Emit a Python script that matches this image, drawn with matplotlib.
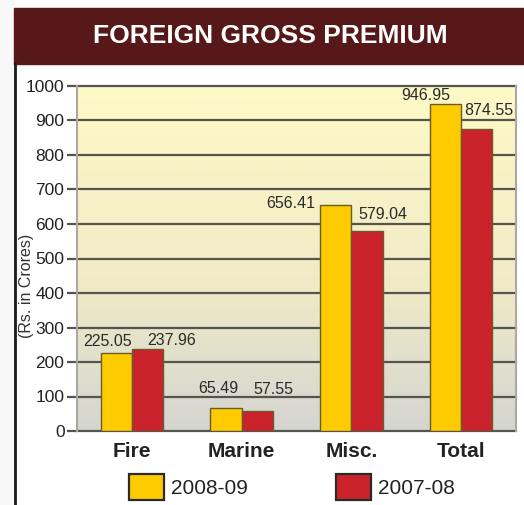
import numpy as np
import matplotlib.pyplot as plt
from matplotlib.colors import LinearSegmentedColormap
from matplotlib.patches import Patch, Rectangle
from matplotlib.lines import Line2D

plt.rcParams['font.family'] = ['Liberation Sans', 'DejaVu Sans']

# --- data ---
categories = ['Fire', 'Marine', 'Misc.', 'Total']
years = ['2008-09', '2007-08']
premium_0809 = [225.05, 65.49, 656.41, 946.95]
premium_0708 = [237.96, 57.55, 579.04, 874.55]
y_ticks = [0, 100, 200, 300, 400, 500, 600, 700, 800, 900, 1000]

# label nudges in pixels (dx, dy) so the numbers don't collide
nudge_0809 = [(-9, 7), (-8, 15), (-45, -3), (-20, 4)]
nudge_0708 = [(24, 4), (16, 17), (16, 12), (12, 14)]

YELLOW = '#fecb00'
RED = '#ca232b'
EDGE = '#6b5a2c'
GRID = '#55554f'
TXT = '#222222'

W, H = 524, 505
fig = plt.figure(figsize=(W / 100, H / 100), dpi=100)

# left margin strip, header bar and frame line
fig.patches.append(Rectangle((0, 0), 14 / W, 1, transform=fig.transFigure,
                             color='#f8f8f8', zorder=0))
fig.patches.append(Rectangle((14 / W, (H - 64) / H), 1 - 14 / W, 56 / H,
                             transform=fig.transFigure, color='#561819', zorder=1))
fig.text(270 / W, (H - 36) / H, 'FOREIGN GROSS PREMIUM', color='white',
         fontsize=19, fontweight='bold', ha='center', va='center')
fig.lines.append(Line2D([15 / W, 15 / W], [0, (H - 64) / H], transform=fig.transFigure,
                        color='#1a1a1a', lw=2))

ax = fig.add_axes([77 / W, (H - 431) / H, (516 - 77) / W, (431 - 86) / H])

# pale yellow to grey background gradient
cmap = LinearSegmentedColormap.from_list(
    'bg', [(0.0, '#d5d5d1'), (0.45, '#f1ecc6'), (1.0, '#fef9c6')])
grad = np.linspace(0, 1, 256).reshape(-1, 1)
ax.imshow(grad, cmap=cmap, aspect='auto', origin='lower',
          extent=[0, 1, 0, 1], transform=ax.transAxes, zorder=0)

x = np.arange(len(categories))
w = 0.285
bars_a = ax.bar(x - w / 2, premium_0809, w, color=YELLOW, edgecolor=EDGE,
                linewidth=1, zorder=3)
bars_b = ax.bar(x + w / 2, premium_0708, w, color=RED, edgecolor=EDGE,
                linewidth=1, zorder=3)

for bars, vals, nudges in [(bars_a, premium_0809, nudge_0809),
                           (bars_b, premium_0708, nudge_0708)]:
    for b, v, (dx, dy) in zip(bars, vals, nudges):
        ax.annotate(f'{v:.2f}', (b.get_x() + b.get_width() / 2, v),
                    xytext=(dx, dy), textcoords='offset pixels',
                    ha='center', va='baseline', fontsize=11.5, color='#2a2a2a',
                    zorder=4)

ax.set_xlim(-0.5, 3.5)
ax.set_ylim(0, 1000)

for t in y_ticks:
    ax.axhline(t, color=GRID, lw=1.6, zorder=2, clip_on=False)

ax.set_yticks(y_ticks)
ax.tick_params(axis='y', length=7, width=1.6, color=GRID, labelsize=12.5,
               labelcolor=TXT, pad=2)
ax.set_xticks(x)
ax.set_xticklabels(categories, fontsize=15, fontweight='bold', color=TXT)
ax.tick_params(axis='x', length=0, pad=8)

for side in ['top', 'bottom']:
    ax.spines[side].set_visible(False)
for side in ['left', 'right']:
    ax.spines[side].set_color('#a9a9a2')
    ax.spines[side].set_linewidth(1.5)

ax.set_ylabel('(Rs. in Crores)', fontsize=11.5, color='#333333')
ax.yaxis.set_label_coords(-43 / (516 - 77), 0.42)

handles = [Patch(facecolor=YELLOW, edgecolor='#2a2a2a', linewidth=1.6),
           Patch(facecolor=RED, edgecolor='#2a2a2a', linewidth=1.6)]
fig.legend(handles, years, loc='center left', bbox_to_anchor=(129 / W, 18 / H),
           ncol=2, frameon=False, fontsize=15, handlelength=1.68,
           handleheight=1.54, handletextpad=0.35, columnspacing=4.2,
           borderpad=0, borderaxespad=0, labelcolor=TXT)

fig.savefig('out.png', dpi=100)
